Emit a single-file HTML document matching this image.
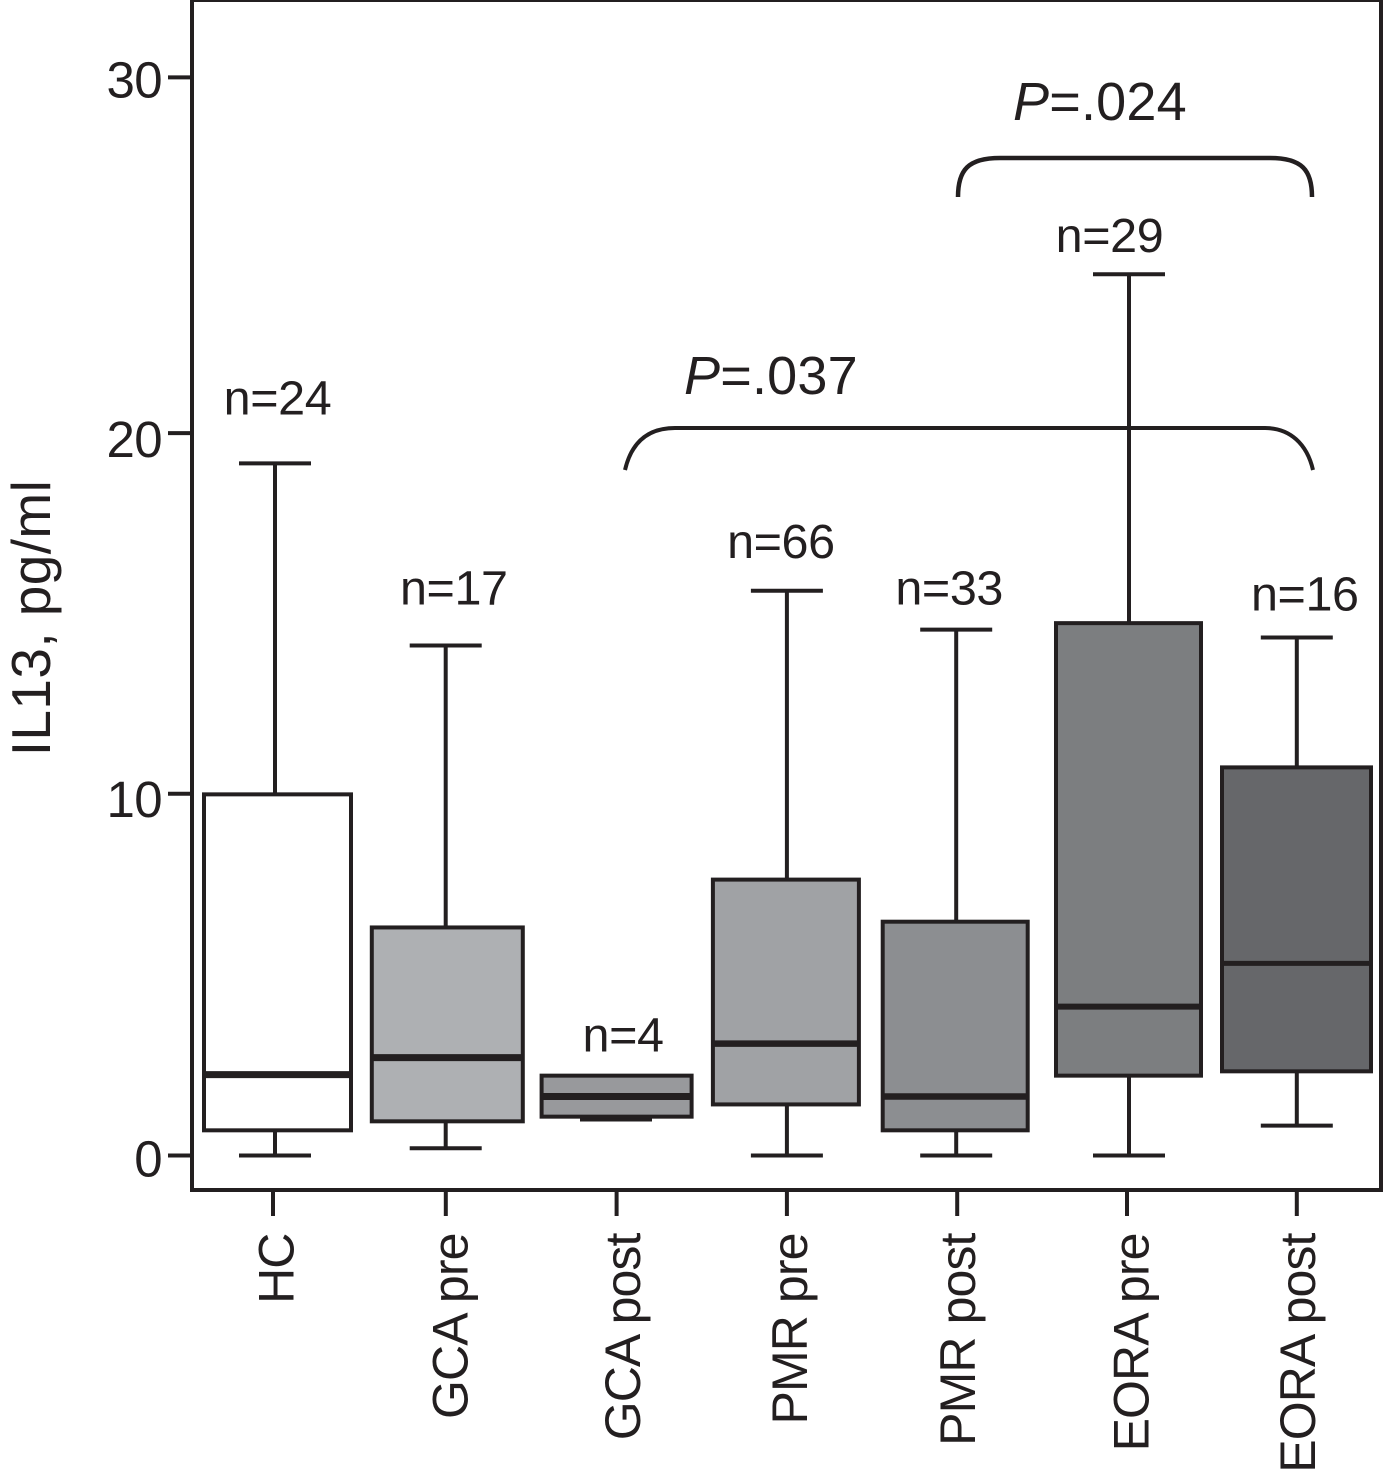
<!DOCTYPE html>
<html lang="en">
<head>
<meta charset="utf-8">
<title>IL13 box plot</title>
<style>
html,body{margin:0;padding:0;background:#fff;width:1383px;height:1472px;overflow:hidden}
svg{display:block}
text{font-family:"Liberation Sans",Arial,sans-serif;fill:#231f20}
</style>
</head>
<body>
<svg id="chart" xmlns="http://www.w3.org/2000/svg" width="1383" height="1472" viewBox="0 0 1383 1472"></svg>
<script>
const categories = ['HC','GCA pre','GCA post','PMR pre','PMR post','EORA pre','EORA post'];
const sampleLabels = ['n=24','n=17','n=4','n=66','n=33','n=29','n=16'];
const whiskerHigh = [19.24,14.18,2.22,15.7,14.62,24.5,14.4];
const upperQuartile = [10.04,6.34,2.22,7.67,6.5,14.8,10.79];
const medians = [2.25,2.72,1.64,3.11,1.64,4.14,5.34];
const lowerQuartile = [0.7,0.95,1.08,1.42,0.7,2.22,2.34];
const whiskerLow = [0,0.2,1.0,0,0,0,0.83];
const boxFills = ['#ffffff','#aeb0b3','#98999c','#a0a2a5','#8c8e91','#7c7e80','#66676a'];
const yTicks = [0,10,20,30];

const svg = document.getElementById('chart');
const NS = 'http://www.w3.org/2000/svg';
const INK = '#231f20';
const yScale = v => 1155.5 - v * 35.97;
const xScale = i => 275 + i * 170.3;

// hand-drawn layout quirks of the original figure (not data)
const whiskerNudge = [0,0.4,0.4,1,0,2.5,0];
const boxNudge = [2.5,2,1,0,-1,2,-0.3];
const boxHalf = [73.5,75.5,75,73,72.5,72.5,74.5];
const tickNudge = [-2,0.5,1,1,1,0.5,0];
const yTickNudge = [0,-2,-3,1];
const labelBaseline = [18.5,22.4,24.3,21.2,19,22,18];
const nOffsets = [-49, -41, -24, -33, -25, -22, -27];
const nShiftX = [2.5, 8.5, 7.5, -5, -7, -17, 8];
const medianWidth = [7,7,7,6.5,6.5,6,5];

function add(tag, attrs, parent, text) {
  const el = document.createElementNS(NS, tag);
  for (const k in attrs) el.setAttribute(k, attrs[k]);
  if (text !== undefined) el.textContent = text;
  (parent || svg).appendChild(el);
  return el;
}
function line(x1, y1, x2, y2, w, parent) {
  return add('line', {x1, y1, x2, y2, stroke: INK, 'stroke-width': w}, parent);
}

// plot frame
const frame = add('rect', {x: 192, y: 0, width: 1189, height: 1190, fill: 'none', stroke: INK, 'stroke-width': 4});



// y axis
yTicks.forEach((t, k) => {
  const y = yScale(t);
  const tick = line(168, y + yTickNudge[k], 192, y + yTickNudge[k], 4);
  
  
  const label = add('text', {x: 162, y: y + 21, 'text-anchor': 'end', 'font-size': 51, 'letter-spacing': '-0.6'}, svg, String(t));
  
  
});

const yTitle = add('text', {x: 0, y: 0, 'text-anchor': 'middle', 'font-size': 55, 'letter-spacing': '0.4', transform: 'translate(50,618) rotate(-90)'}, svg, 'IL13, pg/ml');



// boxes
categories.forEach((c, i) => {
  const base = xScale(i);
  const cx = base + whiskerNudge[i];
  const bx = cx + boxNudge[i] - whiskerNudge[i];
  const g = add('g', {});
  
  

  const hw = boxHalf[i];
  const q3 = yScale(upperQuartile[i]);
  const q1 = yScale(lowerQuartile[i]);
  const hi = yScale(whiskerHigh[i]);
  const lo = yScale(whiskerLow[i]);
  const med = yScale(medians[i]);

  if (hi < q3 - 1) {
    line(cx, hi, cx, q3, 4, g);
    line(cx - 36, hi, cx + 36, hi, 4, g);
  }
  line(cx, q1, cx, lo, 4, g);
  line(cx - 36, lo, cx + 36, lo, 4, g);

  add('rect', {x: bx - hw, y: q3, width: hw * 2, height: q1 - q3, fill: boxFills[i], stroke: INK, 'stroke-width': 4}, g);
  line(bx - hw, med, bx + hw, med, medianWidth[i], g);

  const tick = line(base + tickNudge[i], 1190, base + tickNudge[i], 1216, 4);
  
  

  const label = add('text', {x: 0, y: 0, 'text-anchor': 'end', 'font-size': 50, 'letter-spacing': '-0.9',
    transform: 'translate(' + (base + labelBaseline[i]) + ',1233.5) rotate(-90)'}, svg, c);
  
  
});

// sample size labels (offset from the top whisker of each group)
sampleLabels.forEach((s, i) => {
  const t = add('text', {x: xScale(i) + nShiftX[i], y: yScale(whiskerHigh[i]) + nOffsets[i], 'text-anchor': 'middle', 'font-size': 48.5, 'letter-spacing': '-0.4'}, svg, s);
  
  
});

// significance brackets
const b1 = add('path', {d: 'M625 470 C632 440 650 428 675 428 L1265 428 C1290 428 1307 444 1313 470', fill: 'none', stroke: INK, 'stroke-width': 4});


const b2 = add('path', {d: 'M958 197 C958 170 968 158 1000 158 L1270 158 C1302 158 1312 170 1312 197', fill: 'none', stroke: INK, 'stroke-width': 4.5});



function pLabel(x, y, value, name) {
  const t = add('text', {x, y, 'font-size': 54, 'letter-spacing': '0.2'});
  
  
  add('tspan', {'font-style': 'italic'}, t, 'P');
  add('tspan', {}, t, value);
}
pLabel(684, 394, '=.037', 'p-value-037');
pLabel(1013, 120, '=.024', 'p-value-024');
</script>
</body>
</html>
